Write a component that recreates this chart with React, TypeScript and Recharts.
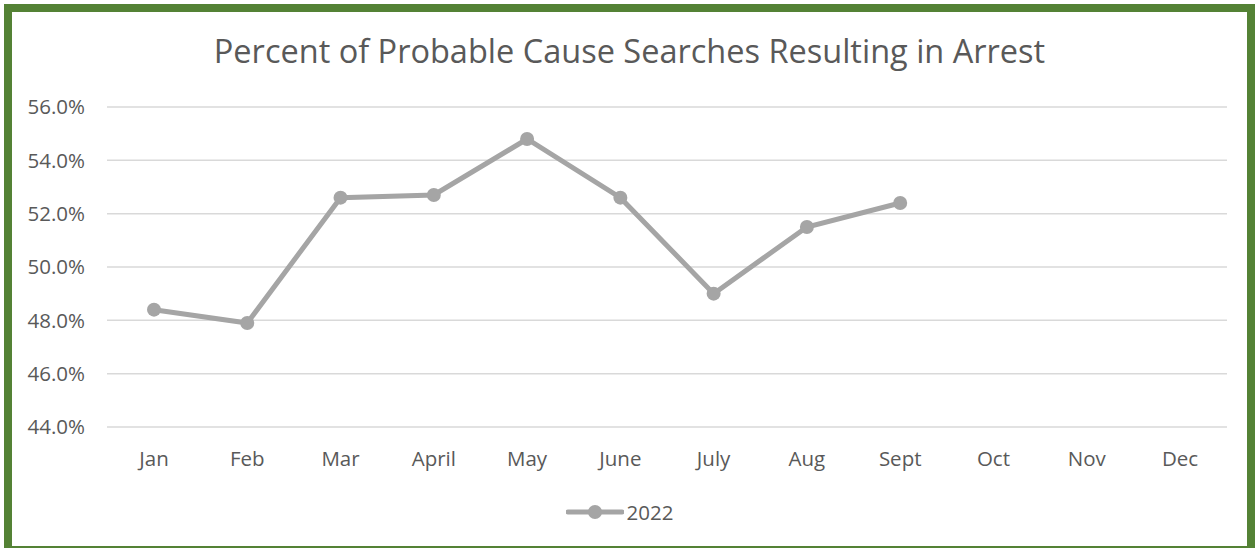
import { CartesianGrid, Legend, Line, LineChart, XAxis, YAxis } from "recharts";

const months = ["Jan", "Feb", "Mar", "April", "May", "June", "July", "Aug", "Sept", "Oct", "Nov", "Dec"];
const arrestPct2022: (number | null)[] = [48.4, 47.9, 52.6, 52.7, 54.8, 52.6, 49.0, 51.5, 52.4, null, null, null];
const yTicks = [44, 46, 48, 50, 52, 54, 56];

const data = months.map((m, i) => ({ month: m, y2022: arrestPct2022[i] }));

const FONT = "'Open Sans', sans-serif";
const TEXT = "#595959";
const GRAY = "#a5a5a5";

function LegendBox() {
  return (
    <div style={{ display: "flex", justifyContent: "center", alignItems: "center", height: 30 }}>
      <svg width={58} height={16} style={{ marginRight: 3 }}>
        <line x1={2} y1={8} x2={56} y2={8} stroke={GRAY} strokeWidth={5} strokeLinecap="round" />
        <circle cx={29} cy={8} r={7} fill={GRAY} />
      </svg>
      <span style={{ fontFamily: FONT, fontSize: 20.5, color: TEXT }}>2022</span>
    </div>
  );
}

export default function App() {
  return (
    <div
      style={{
        position: "absolute",
        left: 4,
        top: 4,
        width: 1235,
        height: 534,
        border: "8px solid #548235",
        background: "#fff",
      }}
    >
      <div
        style={{
          position: "absolute",
          top: 16,
          left: 0,
          width: "100%",
          textAlign: "center",
          fontFamily: FONT,
          fontSize: 32.5,
          color: TEXT,
        }}
      >
        Percent of Probable Cause Searches Resulting in Arrest
      </div>
      <LineChart width={1235} height={534} data={data} margin={{ top: 95, right: 20, left: 0, bottom: 19 }}>
        <CartesianGrid vertical={false} stroke="#d9d9d9" strokeWidth={1.5} />
        <XAxis
          dataKey="month"
          axisLine={false}
          tickLine={false}
          tickSize={0}
          tickMargin={24}
          height={70}
          interval={0}
          padding={{ left: 47, right: 47 }}
          tick={{ fill: TEXT, fontSize: 20.5, fontFamily: FONT }}
        />
        <YAxis
          domain={[44, 56]}
          ticks={yTicks}
          width={95}
          axisLine={false}
          tickLine={false}
          tickSize={0}
          tickMargin={22}
          tickFormatter={(v: number) => v.toFixed(1) + "%"}
          tick={{ fill: TEXT, fontSize: 20.5, fontFamily: FONT }}
        />
        <Legend verticalAlign="bottom" height={30} content={() => <LegendBox />} />
        <Line
          type="linear"
          dataKey="y2022"
          name="2022"
          stroke={GRAY}
          strokeWidth={5}
          dot={{ r: 7, fill: GRAY, stroke: GRAY, strokeWidth: 0 }}
          activeDot={false}
          connectNulls={false}
          isAnimationActive={false}
        />
      </LineChart>
    </div>
  );
}
